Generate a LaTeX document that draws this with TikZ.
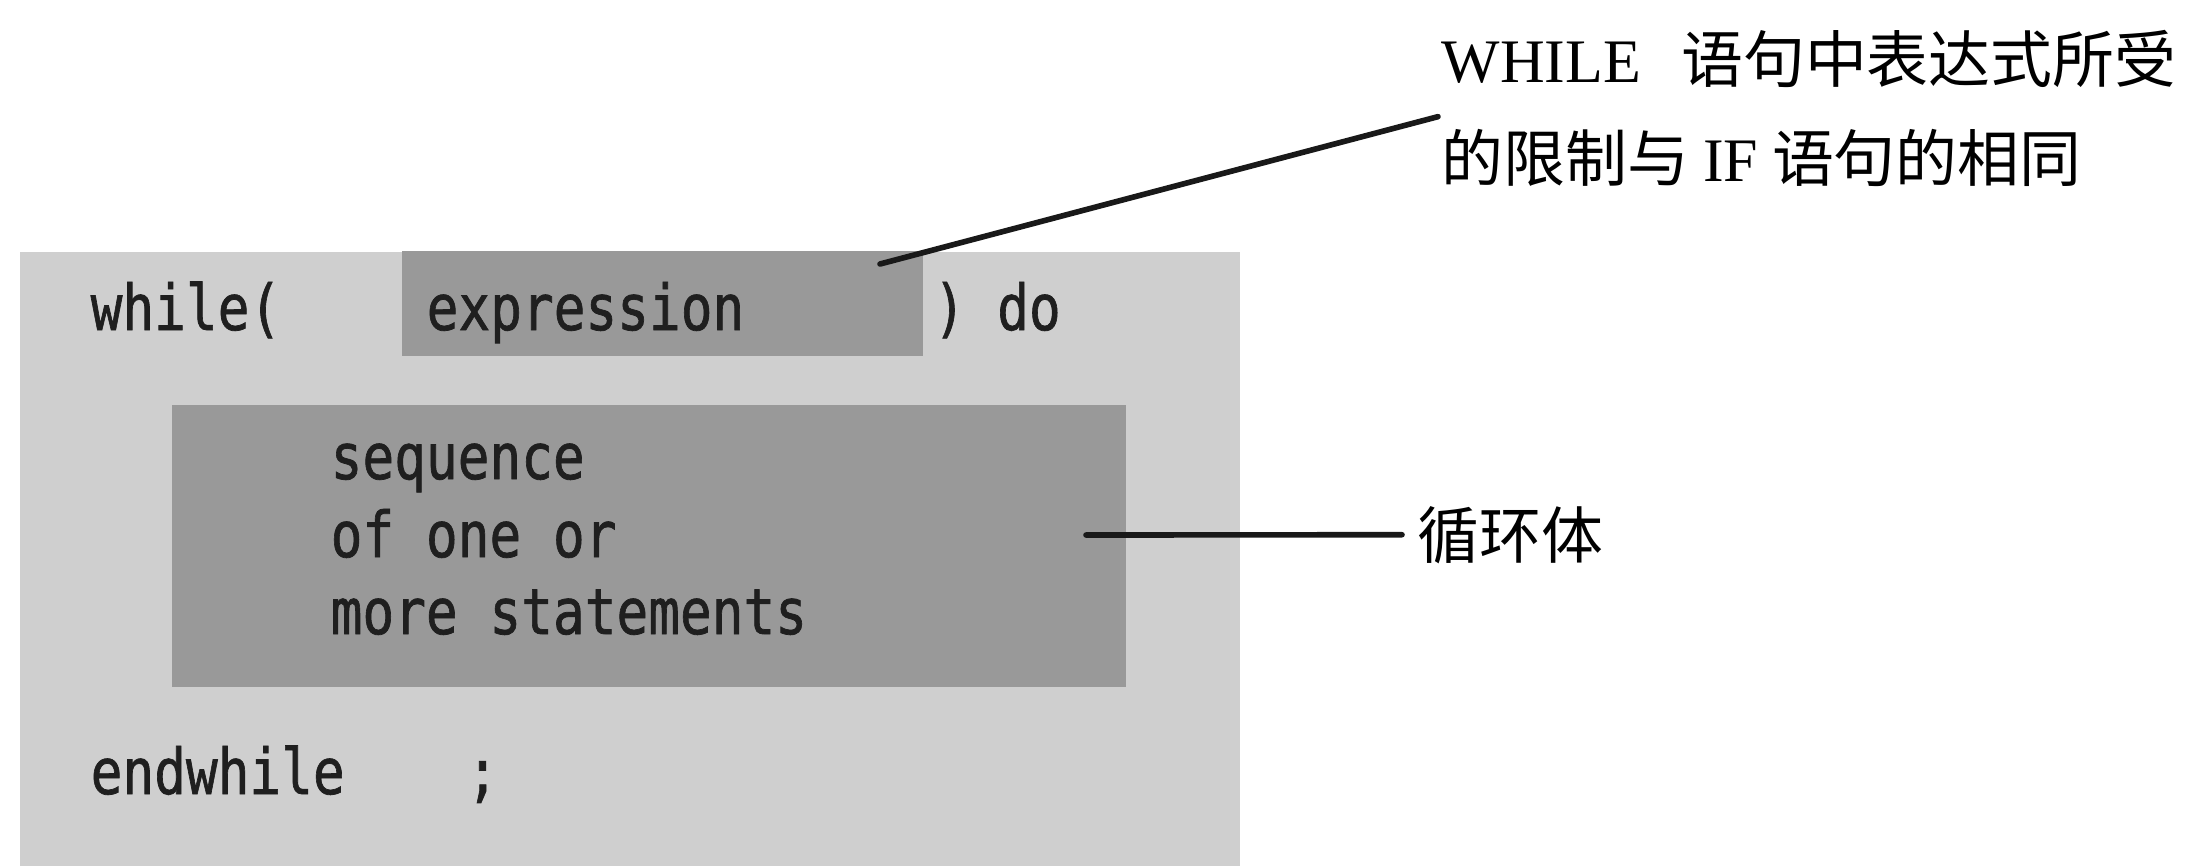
\documentclass[tikz,border=0pt]{standalone}
\usepackage{fontspec}
\usepackage{graphicx}
\newfontfamily\codefont[BoldFont={DejaVu Sans Mono}, BoldFeatures={FakeBold=1.2}]{DejaVu Sans Mono}
\newfontfamily\cjkfont{Noto Sans CJK SC}
\newfontfamily\latinserif{Liberation Serif}
\usetikzlibrary{calc}
\newcommand\codetxt[1]{\scalebox{1}[1.2]{\codefont\bfseries\fontsize{15pt}{18pt}\selectfont #1}}
\tikzset{
  outerbox/.style={fill=black!19, draw=none},
  darkbox/.style={fill=black!40, draw=none},
  code/.style={anchor=base west, inner sep=0pt, text=black!88},
  note/.style={anchor=base west, inner sep=0pt, font=\cjkfont\fontsize{17.6pt}{21pt}\selectfont},
  callout/.style={line width=1.6pt, draw=black!90, line cap=round}
}
\begin{document}
\begin{tikzpicture}[x=0.01cm, y=-0.01cm]
\useasboundingbox (0,0) rectangle (2190,866);
\fill[white] (0,0) rectangle (2190,866);
% boxes
\path[outerbox] (20,252) rectangle (1240,866);
\path[darkbox] (402,251) rectangle (923,356);
\path[darkbox] (172,405) rectangle (1126,687);
% code
\node[code] (w) at (90,330) {\codetxt{while(}};
\node[code] (expr) at (426,330) {\codetxt{expression}};
\node[code] (do) at (933,330) {\codetxt{) do}};
\node[code] (s1) at (330,479) {\codetxt{sequence}};
\node[code] (s2) at (330,557) {\codetxt{of one or}};
\node[code] (s3) at (330,634) {\codetxt{more statements}};
\node[code] (ew) at (90,794) {\codetxt{endwhile}};
\node[code] (semi) at (466,794) {\codetxt{;}};
% annotations
\node[note] (ann1) at (1441,82) {{\latinserif WHILE}\hspace{0.65em}语句中表达式所受};
\node[note] (ann2) at (1441,181) {的限制与 {\latinserif IF} 语句的相同};
\node[note] (loop) at (1417,558) {循环体};
% connectors
\coordinate (c1) at (880,264);
\coordinate (c2) at (1086,535);
\draw[callout] (c1) -- ($(ann1.base west)!0.35!(ann2.base west)+(-3,0)$);
\draw[callout] (c2) -- ($(loop.west)+(-15,0)$);
\end{tikzpicture}
\end{document}
